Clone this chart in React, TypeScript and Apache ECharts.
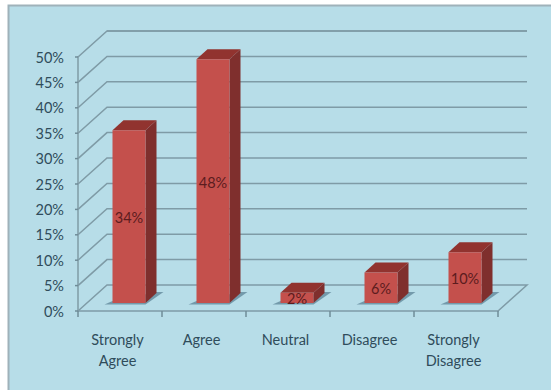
import React, { useEffect, useRef } from "react";
import * as echarts from "echarts";

const categories = ["Strongly\nAgree", "Agree", "Neutral", "Disagree", "Strongly\nDisagree"];
const responseShare = [34, 48, 2, 6, 10];
const wallTicks = [0, 5, 10, 15, 20, 25, 30, 35, 40, 45, 50];

const FONT = "Lato, sans-serif";
const FONT_SIZE = 14.5;
const INK = "#2f4c5b";
const WALL_LINE = "#7f9ba6";
const TICK_LINE = "#6f8c98";
const PANEL = "#b7dde8";

// Depth of the chart floor and of each column, in pixels.
const FLOOR_DX = 29;
const FLOOR_DY = 26;
const BAR_DX = 11;
const BAR_DY = 10;
const BAR_WIDTH = 33;
const BAR_SHIFT_X = 9;
const BAR_LIFT = 8;

function renderWallLine(params: any, api: any) {
  const value = api.value(1);
  const rect = params.coordSys;
  const y = api.coord([0, value])[1];
  const left = rect.x;
  const right = rect.x + rect.width;
  const points = [
    [left, y],
    [left + FLOOR_DX, y - FLOOR_DY],
    [right + FLOOR_DX, y - FLOOR_DY],
  ];
  // The floor also closes back to the front axis on the right.
  if (value === 0) points.push([right, y]);
  return {
    type: "group",
    children: [
      {
        type: "polyline",
        shape: { points },
        style: { stroke: WALL_LINE, lineWidth: 1.5, fill: "none" },
      },
      {
        type: "line",
        shape: { x1: left - 3, y1: y, x2: left, y2: y },
        style: { stroke: TICK_LINE, lineWidth: 1.5 },
      },
    ],
  };
}

// Tick marks on the category axis, at the edges of each category band.
function renderCategoryTick(params: any, api: any) {
  const rect = params.coordSys;
  const x = rect.x + (api.value(0) * rect.width) / categories.length;
  const y = rect.y + rect.height;
  return {
    type: "line",
    shape: { x1: x, y1: y, x2: x, y2: y + 6 },
    style: { stroke: TICK_LINE, lineWidth: 1.5 },
  };
}

function renderColumn(params: any, api: any) {
  const value = api.value(1);
  const top = api.coord([api.value(0), value]);
  const base = api.coord([api.value(0), 0]);
  const x0 = top[0] + BAR_SHIFT_X - BAR_WIDTH / 2;
  const x1 = x0 + BAR_WIDTH;
  const yTop = top[1] - BAR_LIFT;
  const yBase = base[1] - BAR_LIFT;
  return {
    type: "group",
    children: [
      {
        type: "polygon",
        shape: {
          points: [
            [x0 - 8, yBase + 1.5],
            [x1, yBase + 1.5],
            [x1 + 18, yBase - BAR_DY - 1],
            [x1 + BAR_DX, yBase - BAR_DY - 1],
            [x0, yBase - 2],
          ],
        },
        style: { fill: "rgba(70,110,130,0.6)" },
      },
      {
        type: "polygon",
        shape: {
          points: [
            [x1, yTop],
            [x1 + BAR_DX, yTop - BAR_DY],
            [x1 + BAR_DX, yBase - BAR_DY],
            [x1, yBase],
          ],
        },
        style: { fill: "#7f2f2d" },
      },
      {
        type: "polygon",
        shape: {
          points: [
            [x0, yTop],
            [x0 + BAR_DX, yTop - BAR_DY],
            [x1 + BAR_DX, yTop - BAR_DY],
            [x1, yTop],
          ],
        },
        style: { fill: "#91332f" },
      },
      {
        type: "rect",
        shape: { x: x0, y: yTop, width: BAR_WIDTH, height: yBase - yTop },
        style: { fill: "#c4504c" },
      },
      {
        type: "text",
        x: x0 + BAR_WIDTH / 2,
        y: (yTop + yBase) / 2 + 1,
        style: {
          text: `${value}%`,
          fill: "#5c1c1e",
          font: `${FONT_SIZE}px ${FONT}`,
          textAlign: "center",
          textVerticalAlign: "middle",
        },
      },
    ],
  };
}

export default function App() {
  const ref = useRef<HTMLDivElement>(null);

  useEffect(() => {
    const chart = echarts.init(ref.current!, null, { renderer: "svg" });
    chart.setOption({
      animation: false,
      backgroundColor: "#ffffff",
      graphic: [
        {
          type: "rect",
          z: -10,
          shape: { x: 8.5, y: 5.5, width: 560, height: 400 },
          style: { fill: PANEL, stroke: "#9fb2ba", lineWidth: 2 },
        },
      ],
      grid: { left: 78, right: 53, top: 57, bottom: 79 },
      xAxis: {
        type: "category",
        data: categories,
        axisLine: { show: true, onZero: false, lineStyle: { color: WALL_LINE, width: 1.5 } },
        axisTick: { show: false },
        axisLabel: {
          color: INK,
          fontFamily: FONT,
          fontSize: FONT_SIZE,
          lineHeight: 21,
          margin: 18,
          padding: [0, 5, 0, 0],
          interval: 0,
        },
      },
      yAxis: {
        type: "value",
        min: 0,
        max: 50,
        interval: 5,
        splitLine: { show: false },
        axisLine: { show: true, lineStyle: { color: WALL_LINE, width: 1.5 } },
        axisTick: { show: false },
        axisLabel: {
          color: INK,
          fontFamily: FONT,
          fontSize: FONT_SIZE,
          margin: 14,
          formatter: "{value}%",
        },
      },
      series: [
        {
          type: "custom",
          clip: false,
          silent: true,
          renderItem: renderWallLine,
          encode: { x: 0, y: 1 },
          data: wallTicks.map((t) => [0, t]),
          z: 1,
        },
        {
          type: "custom",
          clip: false,
          silent: true,
          // The rear rail runs one floor depth above the 50% tick.
          renderItem: (params: any, api: any) => {
            const rect = params.coordSys;
            const y = api.coord([0, 50])[1] - FLOOR_DY;
            return {
              type: "line",
              shape: { x1: rect.x + FLOOR_DX, y1: y, x2: rect.x + rect.width + FLOOR_DX, y2: y },
              style: { stroke: WALL_LINE, lineWidth: 1.5 },
            };
          },
          encode: { x: 0, y: 1 },
          data: [[0, 50]],
          z: 1,
        },
        {
          type: "custom",
          clip: false,
          silent: true,
          renderItem: renderCategoryTick,
          encode: { x: 0, y: 1 },
          data: [...categories, ""].map((_, i) => [i, 0]),
          z: 1,
        },
        {
          type: "custom",
          clip: false,
          silent: true,
          renderItem: renderColumn,
          encode: { x: 0, y: 1 },
          data: responseShare.map((v, i) => [i, v]),
          z: 2,
        },
      ],
    });
    return () => chart.dispose();
  }, []);

  return <div ref={ref} style={{ position: "fixed", left: 0, top: 0, width: 551, height: 390 }} />;
}
